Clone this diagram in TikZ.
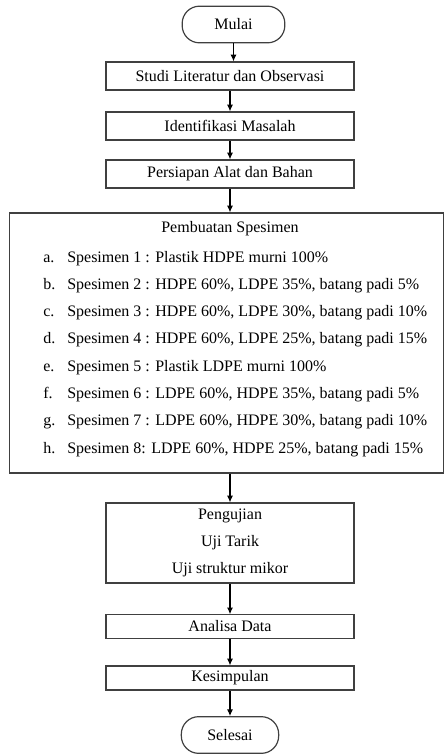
\documentclass[tikz,border=0pt,12pt]{standalone}
\usepackage{fontspec}
\setmainfont{Liberation Serif}
\usetikzlibrary{arrows.meta}

\tikzset{
  proses/.style={draw=black!75, line width=0.9pt, minimum width=186pt, minimum height=21pt, inner sep=2pt},
  terminal/.style={draw=black!75, line width=0.9pt, rounded corners=13pt, minimum width=77pt, minimum height=27.5pt},
  teks/.style={inner sep=0pt, anchor=base west},
  panah/.style={-{Latex[length=5pt,width=4.5pt]}, line width=0.8pt}
}

\begin{document}
\begin{tikzpicture}[x=0.75pt, y=-0.75pt]
\useasboundingbox (0,0) rectangle (444,754);

\node[terminal] (mulai) at (233.5,24.5) {Mulai};
\node[proses] (studi) at (230,76) {Studi Literatur dan Observasi};
\node[proses] (identifikasi) at (230,126) {Identifikasi Masalah};
\node[proses] (persiapan) at (230,174) {Persiapan Alat dan Bahan};

% kotak pembuatan spesimen
\node[proses, minimum width=325.5pt, minimum height=195pt] (buat) at (226.5,343) {};
\node (judul) at (230,229) {Pembuatan Spesimen};
\foreach \l/\t [count=\i] in {
  a/{Spesimen 1 : Plastik HDPE murni 100\%},
  b/{Spesimen 2 : HDPE 60\%, LDPE 35\%, batang padi 5\%},
  c/{Spesimen 3 : HDPE 60\%, LDPE 30\%, batang padi 10\%},
  d/{Spesimen 4 : HDPE 60\%, LDPE 25\%, batang padi 15\%},
  e/{Spesimen 5 : Plastik LDPE murni 100\%},
  f/{Spesimen 6 : LDPE 60\%, HDPE 35\%, batang padi 5\%},
  g/{Spesimen 7 : LDPE 60\%, HDPE 30\%, batang padi 10\%},
  h/{Spesimen 8: LDPE 60\%, HDPE 25\%, batang padi 15\%}}
{
    \node[teks] (huruf\i) at (43,{262+27.3*(\i-1)}) {\l.};
    \node[teks] (isi\i) at (67,{262+27.3*(\i-1)}) {\t};
}

\node[proses, minimum height=60pt, align=center] (uji) at (230,543)
  {Pengujian\\[6pt]Uji Tarik\\[6pt]Uji struktur mikor};
\node[proses, minimum height=17.5pt] (analisa) at (230,626.5) {Analisa Data};
\node[proses, minimum height=18pt] (kesimpulan) at (230,678) {Kesimpulan};
\node[terminal, minimum width=73pt] (selesai) at (230,735) {Selesai};

\draw[panah] (mulai) -- (mulai |- studi.north);
\draw[panah] (studi) -- (identifikasi);
\draw[panah] (identifikasi) -- (persiapan);
\draw[panah] (persiapan) -- (persiapan |- buat.north);
\draw[panah] (buat.south -| uji.north) -- (uji.north);
\draw[panah] (uji) -- (analisa);
\draw[panah] (analisa) -- (kesimpulan);
\draw[panah] (kesimpulan) -- (selesai);
\end{tikzpicture}
\end{document}
